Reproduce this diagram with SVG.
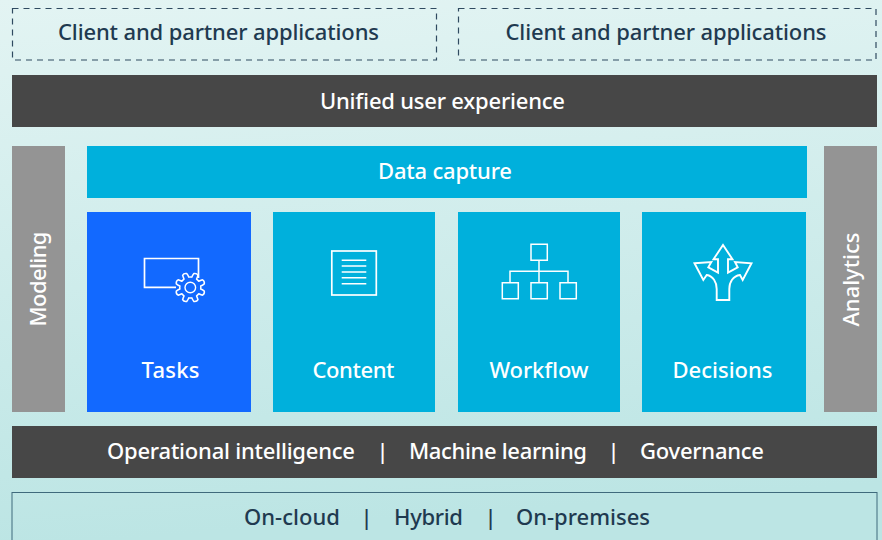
<svg xmlns="http://www.w3.org/2000/svg" width="882" height="540" viewBox="0 0 882 540">
<style>
text{font-family:"Noto Sans","Open Sans","Liberation Sans",sans-serif;font-weight:500;font-size:22px}
.w{fill:#fff}.d{fill:#1f3a50}.m{text-anchor:middle}
.dark{fill:#474747}.gray{fill:#949494}.cy{fill:#00b0dc}.bl{fill:#1269ff}
.dash{fill:none;stroke:#2f4a60;stroke-width:1.200;stroke-dasharray:6 5}
.ic{fill:none;stroke:#fff;stroke-width:1.700}
</style>
<defs><linearGradient id="bg" x1="0" y1="0" x2="0.12" y2="1"><stop offset="0" stop-color="#e3f4f3"/><stop offset="1" stop-color="#bce5e4"/></linearGradient></defs>
<rect width="882" height="540" fill="url(#bg)"/>
<g id="client-1"><rect class="dash" x="12.500" y="8.500" width="424" height="51.500"/><text class="d" x="58" y="40" textLength="321">Client and partner applications</text></g>
<g id="client-2"><rect class="dash" x="458.500" y="8.500" width="417.500" height="51.500"/><text class="d" x="505.500" y="40" textLength="321">Client and partner applications</text></g>
<g id="unified"><rect class="dark" x="12" y="75" width="865" height="52"/><text class="w" x="320" y="109" textLength="245">Unified user experience</text></g>
<g id="modeling"><rect class="gray" x="12" y="146" width="53" height="266"/><text class="w" transform="translate(46,326.500) rotate(-90)" textLength="95">Modeling</text></g>
<g id="analytics"><rect class="gray" x="824" y="146" width="53" height="266"/><text class="w" transform="translate(859,326.500) rotate(-90)" textLength="94">Analytics</text></g>
<g id="data-capture"><rect class="cy" x="87" y="146" width="720" height="52"/><text class="w" x="378" y="179" textLength="134">Data capture</text></g>
<g id="tasks"><rect class="bl" x="87" y="212" width="164" height="200"/>
<path class="ic" d="M176,287.300H144.500V258.500H198.500V278"/>
<g transform="translate(190.300,287.500)" style="stroke-linejoin:round"><circle class="ic" r="5.300" style="stroke-width:1.400"/><path class="ic" style="stroke-width:1.500" d="M10.380,1.550Q12,2 14,3.600Q14.500,6.500 12.200,7.700Q10,7 8.440,6.250Q7.500,7.500 6.250,8.440Q7,10 7.700,12.200Q6.500,14.500 3.600,14Q2,12 1.550,10.380Q0,10.700 -1.550,10.380Q-2,12 -3.600,14Q-6.500,14.500 -7.700,12.200Q-7,10 -6.250,8.440Q-7.500,7.500 -8.440,6.250Q-10,7 -12.200,7.700Q-14.500,6.500 -14,3.600Q-12,2 -10.380,1.550Q-10.700,0 -10.380,-1.550Q-12,-2 -14,-3.600Q-14.500,-6.500 -12.200,-7.700Q-10,-7 -8.440,-6.250Q-7.500,-7.500 -6.250,-8.440Q-7,-10 -7.700,-12.200Q-6.500,-14.500 -3.600,-14Q-2,-12 -1.550,-10.380Q0,-10.700 1.550,-10.380Q2,-12 3.600,-14Q6.500,-14.500 7.700,-12.200Q7,-10 6.250,-8.440Q7.500,-7.500 8.440,-6.250Q10,-7 12.200,-7.700Q14.500,-6.500 14,-3.600Q12,-2 10.380,-1.550Q10.700,0 10.380,1.550Z"/></g>
<text class="w" x="141.500" y="378" textLength="58">Tasks</text></g>
<g id="content"><rect class="cy" x="273" y="212" width="162" height="200"/>
<rect class="ic" x="331.800" y="251" width="44.500" height="44"/>
<path class="ic" style="stroke-width:1.400" d="M341.700,260.300H366.300M341.700,266H366.300M341.700,272H366.300M341.700,277.700H366.300M341.700,283.700H366.300"/>
<text class="w" x="312.500" y="378" textLength="82">Content</text></g>
<g id="workflow"><rect class="cy" x="458" y="212" width="162" height="200"/>
<path class="ic" style="stroke-width:1.500" d="M531,244.300h16.300v16H531zM502.300,282.700h16v16h-16zM531,282.700h16.300v16H531zM560,282.700h16.300v16H560zM539,260.300V282.700M510,282.700V271.300H568V282.700"/>
<text class="w" x="489.500" y="378" textLength="99">Workflow</text></g>
<g id="decisions"><rect class="cy" x="642" y="212" width="164" height="200"/>
<path class="ic" style="stroke-width:1.900" d="M694.500,263.300L711.300,262L708.300,267.300L718,272.700V259.300H713.500L723,245L732.500,259.300H728V272.700L737.700,267.300L735,262L751.500,263.300L742.700,280L740,275C733,276 729.300,282 729.300,289V300H716.700V289C716.700,282 713,276 706.700,275L703.300,280Z"/>
<text class="w" x="672.500" y="378" textLength="100">Decisions</text></g>
<g id="operations"><rect class="dark" x="12" y="426" width="865" height="52"/><text class="w" y="459"><tspan x="107" textLength="248">Operational intelligence</tspan> <tspan x="376.500">|</tspan> <tspan x="409" textLength="178">Machine learning</tspan> <tspan x="607.500">|</tspan> <tspan x="640" textLength="124">Governance</tspan></text></g>
<g id="deployment"><rect x="12" y="492.500" width="865" height="60" fill="none" stroke="#3f6a7c" stroke-width="1"/><text class="d" y="525"><tspan x="244" textLength="96">On-cloud</tspan> <tspan x="360.500">|</tspan> <tspan x="394" textLength="69">Hybrid</tspan> <tspan x="484.500">|</tspan> <tspan x="516" textLength="134">On-premises</tspan></text></g>
</svg>
